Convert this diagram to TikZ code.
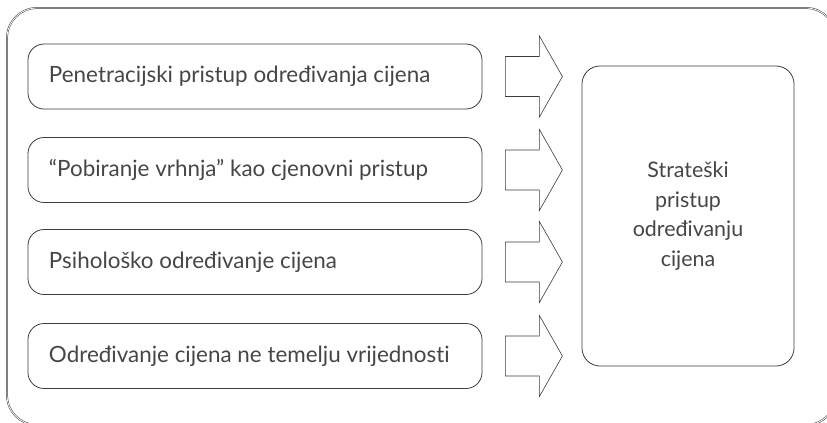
\documentclass[tikz,border=0pt]{standalone}
\usepackage{fontspec}
\setmainfont[Ligatures=NoCommon]{Lato}
\usepackage{tikz}
\usetikzlibrary{positioning,calc}
\definecolor{lineg}{RGB}{60,60,60}
\definecolor{textg}{RGB}{70,70,70}

\begin{document}
\begin{tikzpicture}[x=1bp,y=-1bp,
    pbox/.style={draw=lineg,line width=0.8bp,rounded corners=16bp,
      minimum height=65bp,inner xsep=21bp,text width=412bp,align=flush left,
      text=textg,font=\fontsize{22.5}{26}\selectfont},
    goalbox/.style={draw=lineg,line width=0.8bp,rounded corners=18bp,
      minimum width=212bp,minimum height=300bp,align=center,
      text=textg,font=\fontsize{21.5}{30}\selectfont},
    blockarrow/.style={draw=lineg,line width=0.6bp,fill=white}]
  \useasboundingbox (0,0) rectangle (827,422);
  % outer frame
  \begin{scope}
    \clip (0,0) rectangle (827,422);
    \draw[lineg,line width=0.5bp,double,double distance=0.8bp,
      rounded corners=30bp] (7,8) rectangle (836,425);
  \end{scope}
  % goal
  \node[goalbox] (goal) at (688,216) {Strateški\\pristup\\određivanju\\cijena};
  % approaches
  \foreach \i/\y/\t in {1/76.5/{Penetracijski pristup određivanja cijena},
      2/170/{``Pobiranje vrhnja'' kao cjenovni pristup},
      3/262/{Psihološko određivanje cijena},
      4/356/{Određivanje cijena ne temelju vrijednosti}} {
    \node[pbox] (p\i) at (255,\y) {\mbox{\t}};
    \coordinate (a\i) at ($(p\i.east)+(23,0)$);
    \draw[blockarrow] (a\i) ++(0,-20) -- ++(34,0) -- ++(0,-20.5)
      -- ($(a\i)+(57,0)$) -- ++(-23,40.5) -- ++(0,-20.5) -- ++(-34,0) -- cycle;
  }
\end{tikzpicture}
\end{document}
